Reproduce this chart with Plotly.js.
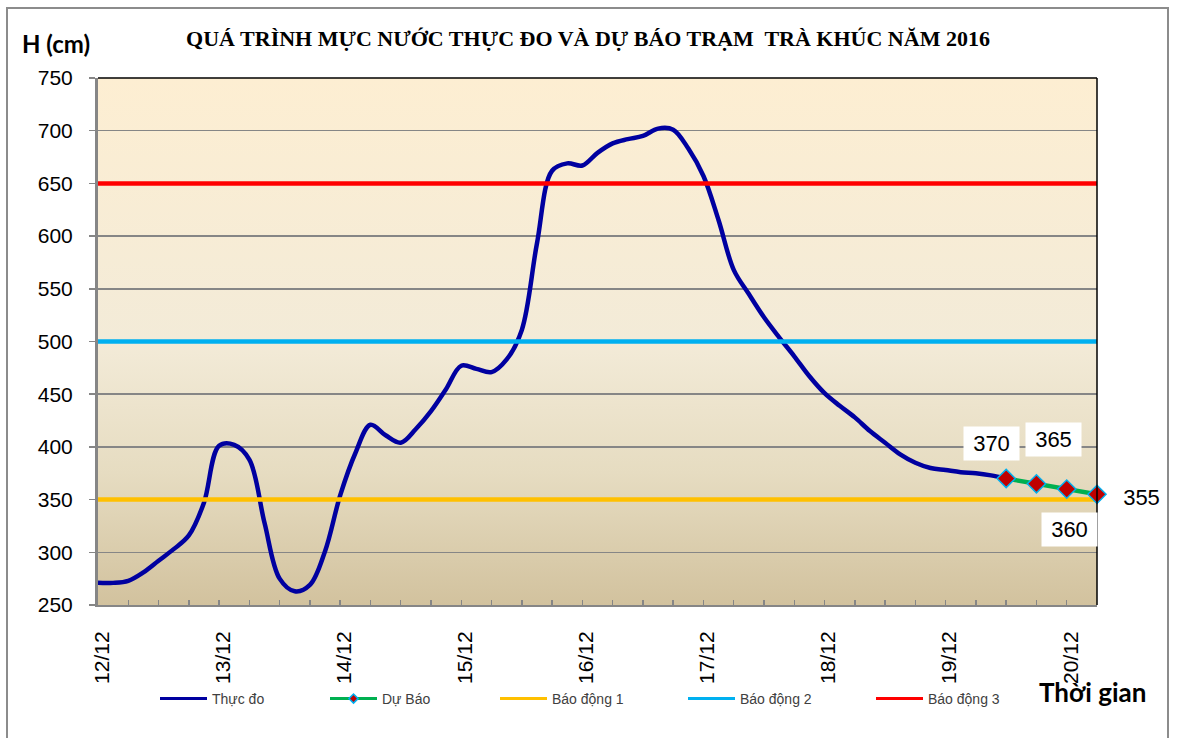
<!DOCTYPE html>
<html>
<head>
<meta charset="utf-8">
<script src="https://cdn.plot.ly/plotly-3.0.1.min.js"></script>
<style>
  html, body { margin: 0; padding: 0; background: #ffffff; }
  #wrap { position: relative; width: 1178px; height: 738px; overflow: hidden; }
  #frame { position: absolute; left: 6px; top: 7px; width: 1163px; height: 760px; border: 2px solid #8c8c8c; box-sizing: border-box; }
  #chart { position: absolute; left: 0; top: 0; width: 1178px; height: 738px; }
</style>
</head>
<body>
<div id="wrap">
  <div id="frame"></div>
  <div id="chart"></div>
</div>
<script>
// ---- Data ----
var chartTitle = 'QUÁ TRÌNH MỰC NƯỚC THỰC ĐO VÀ DỰ BÁO TRẠM  TRÀ KHÚC NĂM 2016';
var yTitle = 'H (cm)';
var xTitle = 'Thời gian';
var seriesNames = ['Thực đo', 'Dự Báo', 'Báo động 1', 'Báo động 2', 'Báo động 3'];

// Observed water level, every 3 hours from 12/12/2016 00:00
var observedStart = '2016-12-12 00:00';
var observedStepHours = 3;
var observed = [
  271, 271, 273, 281, 292, 303, 316, 347, 401, 402,
  388, 328, 275, 263, 269, 301, 354, 394, 421, 411,
  404, 417, 434, 455, 477, 474, 471, 483, 511, 593,
  662, 669, 667, 679, 688, 692, 695, 702, 701, 683,
  657, 615, 568, 545, 523, 504, 486, 467, 451, 439,
  428, 415, 404, 393, 385, 380, 378, 376, 375, 373,
  370
];

// Forecast
var forecastTimes = ['2016-12-19 12:00', '2016-12-19 18:00', '2016-12-20 00:00', '2016-12-20 06:00'];
var forecast = [370, 365, 360, 355];

// Alarm levels
var alarmLevels = [350, 500, 650];
var alarmColors = ['#FFC000', '#00B0F0', '#FF0000'];

var axisStart = '2016-12-12 00:00';
var axisEnd = '2016-12-20 06:00';
var yRange = [250, 750];

// ---- Build traces ----
function fmt(ms) {
  return new Date(ms).toISOString().slice(0, 16).replace('T', ' ');
}
var t0 = Date.parse(observedStart.replace(' ', 'T') + ':00Z');
var observedTimes = observed.map(function (v, i) { return fmt(t0 + i * observedStepHours * 3600000); });

var obsColor = '#0000A0', fcColor = '#00B050';
var fcMarker = { symbol: 'diamond', color: '#C00000', line: { color: '#00B0F0', width: 1.5 } };

var traces = [];
traces.push({
  type: 'scatter', mode: 'lines', name: seriesNames[0], showlegend: false,
  x: observedTimes, y: observed,
  line: { color: obsColor, width: 4.5, shape: 'spline', smoothing: 1 }
});
alarmLevels.forEach(function (lvl, k) {
  traces.push({
    type: 'scatter', mode: 'lines', name: seriesNames[2 + k], showlegend: false,
    x: [axisStart, axisEnd], y: [lvl, lvl],
    line: { color: alarmColors[k], width: 4.5 }, cliponaxis: false
  });
});
traces.push({
  type: 'scatter', mode: 'lines+markers', name: seriesNames[1], showlegend: false,
  x: forecastTimes, y: forecast,
  line: { color: fcColor, width: 4.5 },
  marker: Object.assign({ size: 14 }, fcMarker), cliponaxis: false
});

// Legend entries (thinner keys, as in the reference legend)
var legendColors = [obsColor, fcColor].concat(alarmColors);
seriesNames.forEach(function (nm, k) {
  var t = {
    type: 'scatter', mode: k === 1 ? 'lines+markers' : 'lines', name: nm,
    x: [null], y: [null], showlegend: true,
    legend: k === 0 ? 'legend' : 'legend' + (k + 1),
    line: { color: legendColors[k], width: 3 }
  };
  if (k === 1) t.marker = Object.assign({ size: 7 }, fcMarker);
  traces.push(t);
});

// ---- Layout ----
var L = 98, R = 81, T = 78, B = 133, W = 1178, H = 738;
var pw = W - L - R, ph = H - T - B;
function px2x(px) { return (px - L) / pw; }
function px2y(py) { return (H - B - py) / ph; }

var legendFont = { family: 'Liberation Sans, Arial, sans-serif', size: 14, color: '#404040' };
var legendX = [155, 325, 495, 683, 871];
function legendDef(px) {
  return { x: px2x(px), y: px2y(699), xanchor: 'left', yanchor: 'middle', orientation: 'h',
           itemwidth: 47,
           bgcolor: 'rgba(0,0,0,0)', font: legendFont, borderwidth: 0 };
}

var labelShifts = [[-14.5, 35.5], [17, 44], [2.5, -40], [44.5, -3]];
var annotations = forecast.map(function (v, i) {
  return {
    x: forecastTimes[i], y: v, xref: 'x', yref: 'y', text: String(v), showarrow: false,
    xshift: labelShifts[i][0], yshift: labelShifts[i][1],
    bgcolor: i === 3 ? 'rgba(0,0,0,0)' : '#ffffff', width: 55, height: 33, borderpad: 0,
    font: { family: 'Liberation Sans, Arial, sans-serif', size: 22, color: '#000000' }
  };
});
annotations.push({
  xref: 'paper', yref: 'paper', x: px2x(56), y: px2y(43), text: yTitle, showarrow: false,
  xanchor: 'center', yanchor: 'middle',
  font: { family: 'Lato, sans-serif', size: 24, weight: 700, color: '#000000' }
});
annotations.push({
  xref: 'paper', yref: 'paper', x: px2x(1092), y: px2y(692), text: xTitle, showarrow: false,
  xanchor: 'center', yanchor: 'middle',
  font: { family: 'Lato, sans-serif', size: 26, weight: 700, color: '#000000' }
});

var svgBg = "<svg xmlns='http://www.w3.org/2000/svg' width='10' height='100' viewBox='0 0 10 100' preserveAspectRatio='none'>" +
  "<defs><linearGradient id='g' x1='0' y1='0' x2='0' y2='1'>" +
  "<stop offset='0' stop-color='#FDEED2'/><stop offset='0.5' stop-color='#F3EBD8'/>" +
  "<stop offset='0.75' stop-color='#E6DCC1'/><stop offset='1' stop-color='#D2C29E'/>" +
  "</linearGradient></defs><rect x='0' y='0' width='10' height='100' fill='url(#g)'/></svg>";

var layout = {
  width: W, height: H,
  margin: { l: L, r: R, t: T, b: B, pad: 0 },
  paper_bgcolor: 'rgba(0,0,0,0)',
  plot_bgcolor: 'rgba(0,0,0,0)',
  title: {
    text: chartTitle, xref: 'container', yref: 'container',
    x: 588 / W, xanchor: 'center', y: 1 - 38 / H, yanchor: 'middle',
    font: { family: 'Liberation Serif, Times New Roman, serif', size: 22, weight: 700, color: '#000000' }
  },
  xaxis: {
    type: 'date', range: [axisStart, axisEnd],
    tick0: axisStart, dtick: 86400000, tickformat: '%d/%m',
    tickangle: -90, ticks: 'inside', ticklen: 5, tickwidth: 1.5, tickcolor: '#868686',
    minor: { dtick: 21600000, ticks: 'inside', ticklen: 5, tickwidth: 1.5, tickcolor: '#868686', showgrid: false },
    showgrid: false, zeroline: false,
    showline: true, linecolor: '#868686', linewidth: 2,
    ticklabelstandoff: 16, ticklabelshift: 4,
    tickfont: { family: 'Liberation Sans, Arial, sans-serif', size: 21, color: '#000000' },
    fixedrange: true
  },
  yaxis: {
    range: yRange, dtick: 50, tick0: 250,
    ticks: 'outside', ticklen: 6, tickwidth: 1.5, tickcolor: '#868686',
    showgrid: true, gridcolor: '#868686', gridwidth: 1.5,
    zeroline: false, showline: true, linecolor: '#868686', linewidth: 3,
    ticklabelstandoff: 12,
    tickfont: { family: 'Liberation Sans, Arial, sans-serif', size: 21, color: '#000000' },
    fixedrange: true
  },
  legend: legendDef(legendX[0]),
  legend2: legendDef(legendX[1]),
  legend3: legendDef(legendX[2]),
  legend4: legendDef(legendX[3]),
  legend5: legendDef(legendX[4]),
  images: [{
    source: 'data:image/svg+xml;charset=utf-8,' + encodeURIComponent(svgBg),
    xref: 'paper', yref: 'paper', x: 0, y: 1, sizex: 1, sizey: 1,
    xanchor: 'left', yanchor: 'top', sizing: 'stretch', layer: 'below'
  }],
  shapes: [
    { type: 'line', xref: 'paper', yref: 'paper', x0: 0, x1: 1, y0: 1, y1: 1, line: { color: '#000000', width: 1.5 } },
    { type: 'line', xref: 'paper', yref: 'paper', x0: 1, x1: 1, y0: 0, y1: 1, line: { color: '#000000', width: 1.5 } }
  ],
  annotations: annotations,
  showlegend: true
};

Plotly.newPlot('chart', traces, layout, { displayModeBar: false, staticPlot: true });
</script>
</body>
</html>
